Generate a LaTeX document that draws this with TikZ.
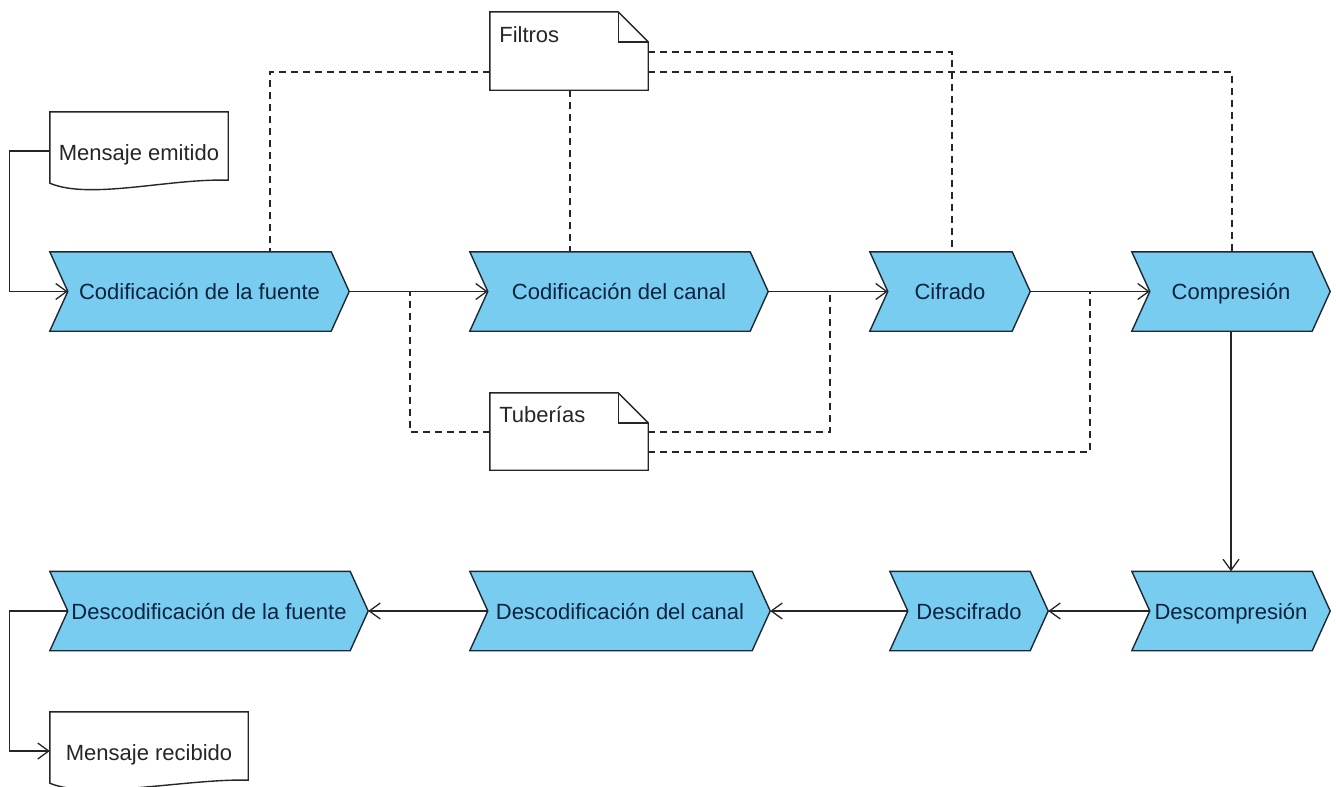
\documentclass[tikz,border=0pt]{standalone}
\usepackage{fontspec}
\setmainfont{Liberation Sans}
\usetikzlibrary{arrows.meta,backgrounds}
\definecolor{chevblue}{RGB}{120,204,240}
\definecolor{chevline}{RGB}{30,40,52}
\definecolor{chevtext}{RGB}{12,34,62}
\begin{document}
\begin{tikzpicture}[x=1pt,y=-1pt,
  every node/.style={font=\fontsize{22}{26}\selectfont},
  stage/.style={rectangle, draw=none, inner sep=0pt, minimum height=79pt, text=chevtext,
    text height=18pt, text depth=2pt},
  memo/.style={rectangle, draw=none, inner sep=0pt, minimum width=158pt},
  docnode/.style={rectangle, draw=none, inner sep=0pt, minimum height=78pt, text=black!85,
    text height=19pt, text depth=1pt},
  chev/.style={fill=chevblue, draw=chevline, line width=1.4pt, line join=miter},
  paper/.style={fill=white, draw=black!85, line width=1.4pt},
  flow/.style={line width=1.3pt, draw=black!85, -{Straight Barb[length=11pt,width=16pt,line width=1.3pt]}},
  link/.style={line width=1.1pt, draw=black!85, dash pattern=on 7pt off 5pt},
]
\useasboundingbox (0,0) rectangle (1336,787);

% process stages, top row
\node[stage, minimum width=299pt] (fuente)     at (199.5,291.5) {Codificación de la fuente};
\node[stage, minimum width=298pt] (canal)      at (619,291.5)   {Codificación del canal};
\node[stage, minimum width=160pt] (cifrado)    at (950,291.5)   {Cifrado};
\node[stage, minimum width=198pt] (compresion) at (1231,291.5)  {Compresión};
% process stages, bottom row
\node[stage, minimum width=318pt] (dfuente)       at (209,611)  {Descodificación de la fuente};
\node[stage, minimum width=300pt] (dcanal)        at (620,611)  {Descodificación del canal};
\node[stage, minimum width=158pt] (descifrado)    at (969,611)  {Descifrado};
\node[stage, minimum width=198pt] (descompresion) at (1231,611) {Descompresión};

% messages
\node[docnode, minimum width=178pt] (emitido)  at (139,151) {Mensaje emitido};
\node[docnode, minimum width=198pt] (recibido) at (149,751) {Mensaje recibido};

% notes
\node[memo, minimum height=78pt] (filtros)  at (569,51)    {};
\node[memo, minimum height=77pt] (tuberias) at (569,431.5) {};
\node[anchor=base west, text=black!85] (filtros-label)  at ([xshift=6pt,yshift=-31pt]filtros.north west)  {Filtros};
\node[anchor=base west, text=black!85] (tuberias-label) at ([xshift=6pt,yshift=-30pt]tuberias.north west) {Tuberías};

% chevron outlines and notch points
\foreach \n in {fuente,canal,cifrado,compresion,dfuente,dcanal,descifrado,descompresion}{
  \coordinate (\n-in) at ([xshift=18pt]\n.west);
}
\begin{scope}[on background layer]
  \foreach \n in {fuente,canal,cifrado,compresion,dfuente,dcanal,descifrado,descompresion}{
    \filldraw[chev] (\n.north west) -- ([xshift=-18pt]\n.north east) -- (\n.east)
      -- ([xshift=-18pt]\n.south east) -- (\n.south west) -- ([xshift=18pt]\n.west) -- cycle;
  }
  \foreach \n in {emitido,recibido}{
    \filldraw[paper] (\n.north west) -- (\n.north east) -- ([yshift=10pt]\n.south east)
      .. controls ([xshift=-58pt,yshift=12pt]\n.south east) and ([xshift=40pt,yshift=-10pt]\n.south west)
      .. ([yshift=7pt]\n.south west) -- cycle;
  }
  \foreach \n in {filtros,tuberias}{
    \filldraw[paper] (\n.north west) -- ([xshift=-30pt]\n.north east) -- ([yshift=-30pt]\n.north east)
      -- (\n.south east) -- (\n.south west) -- cycle;
    \draw[paper, fill=none] ([xshift=-30pt]\n.north east) |- ([yshift=-30pt]\n.north east);
  }
\end{scope}

% junctions of the pipe notes on the flow lines
\coordinate (pipeA) at (410,292);
\coordinate (pipeB) at (830,292);
\coordinate (pipeC) at (1090,292);

% dashed note links
\draw[link] (filtros.west |- 0,72) -| (fuente.north -| 270,0);
\draw[link] (filtros.south -| 570,0) -- (canal.north -| 570,0);
\draw[link] (filtros.east |- 0,52) -| (cifrado.north -| 952,0);
\draw[link] (filtros.east |- 0,72) -| (compresion.north -| 1232,0);
\draw[link] (tuberias.west |- 0,432) -| (pipeA);
\draw[link] (tuberias.east |- 0,432) -| (pipeB);
\draw[link] (tuberias.east |- 0,452) -| (pipeC);

% main flow
\draw[flow] (emitido.west) -- ++(-40,0) |- (fuente-in);
\draw[flow] (fuente.east) -- (canal-in);
\draw[flow] (canal.east) -- (cifrado-in);
\draw[flow] (cifrado.east) -- (compresion-in);
\draw[flow] (compresion.south) -- (descompresion.north);
\draw[flow] (descompresion-in) -- (descifrado.east);
\draw[flow] (descifrado-in) -- (dcanal.east);
\draw[flow] (dcanal-in) -- (dfuente.east);
\draw[flow] (dfuente-in) -- ++(-58,0) |- (recibido.west);
\end{tikzpicture}
\end{document}
